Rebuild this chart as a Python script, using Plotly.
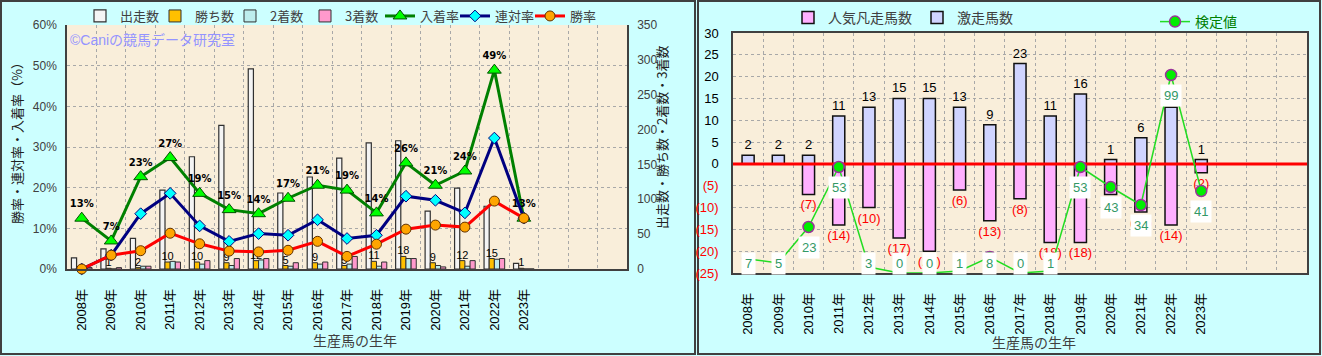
import plotly.graph_objects as go

# ---------------- data ----------------
years = ["2008年", "2009年", "2010年", "2011年", "2012年", "2013年", "2014年", "2015年",
         "2016年", "2017年", "2018年", "2019年", "2020年", "2021年", "2022年", "2023年"]

starts = [16, 29, 44, 113, 161, 206, 287, 109, 132, 159, 181, 184, 83, 116, 90, 8]
wins = [0, 1, 2, 10, 10, 9, 12, 5, 9, 5, 11, 18, 9, 12, 15, 1]
seconds = [0, 0, 4, 11, 7, 5, 13, 4, 7, 7, 4, 15, 5, 4, 14, 0]
thirds = [2, 2, 4, 10, 12, 15, 15, 9, 10, 18, 10, 15, 3, 12, 15, 0]

win_rate = [0.0, 3.4, 4.5, 8.8, 6.2, 4.4, 4.2, 4.6, 6.8, 3.1, 6.1, 9.8, 10.8, 10.3, 16.7, 12.5]
rentai_rate = [0.0, 3.4, 13.6, 18.6, 10.6, 6.8, 8.7, 8.3, 12.1, 7.5, 8.3, 17.9, 16.9, 13.8, 32.2, 12.5]
place_rate = [12.5, 6.9, 22.7, 27.4, 18.6, 14.6, 13.6, 17.4, 20.6, 19.4, 13.8, 26.1, 20.6, 24.1, 48.9, 12.5]

fail_counts = [0, 0, 7, 14, 10, 17, 20, 6, 13, 8, 18, 18, 7, 11, 14, 2]      # 人気凡走馬数
upset_counts = [2, 2, 2, 11, 13, 15, 15, 13, 9, 23, 11, 16, 1, 6, 13, 1]     # 激走馬数
test_values = [7, 5, 23, 53, 3, 0, 0, 1, 8, 0, 1, 53, 43, 34, 99, 41]        # 検定値

right_ticks = [-25, -20, -15, -10, -5, 0, 5, 10, 15, 20, 25, 30]

# ---------------- layout helpers ----------------
W, H = 1322, 356
N_SLOTS = 19
XR = [-0.5, N_SLOTS - 0.5]
FONT = "Liberation Sans, Noto Sans CJK JP, sans-serif"
CJK = "Noto Sans CJK JP, sans-serif"


def px(x):
    return x / W


def py(y):
    return 1 - y / H


idx = list(range(len(years)))

fig = go.Figure()

# ---------------- left chart: bars (base axis y = counts) ----------------
bar_common = dict(xaxis="x", yaxis="y", legend="legend", constraintext="none",
                  textangle=0, cliponaxis=False, hoverinfo="skip")
fig.add_trace(go.Bar(name="出走数", x=idx, y=starts,
                     marker=dict(color="#F4F4F4", line=dict(color="#303030", width=1.2)),
                     **bar_common))
fig.add_trace(go.Bar(name="勝ち数", x=idx, y=wins,
                     text=[str(v) if v else "" for v in wins], textposition="outside",
                     textfont=dict(size=11, color="#000000", family=FONT),
                     marker=dict(color="#FFC000", line=dict(color="#303030", width=1.0)),
                     **bar_common))
fig.add_trace(go.Bar(name="2着数", x=idx, y=seconds,
                     marker=dict(color="#BDEDED", line=dict(color="#303030", width=1.0)),
                     **bar_common))
fig.add_trace(go.Bar(name="3着数", x=idx, y=thirds,
                     marker=dict(color="#FF99CC", line=dict(color="#303030", width=1.0)),
                     **bar_common))

# ---------------- left chart: rate lines (overlay axis y2 = %) ----------------
fig.add_trace(go.Scatter(name="入着率", x=idx, y=place_rate, xaxis="x", yaxis="y2",
                         legend="legend", mode="lines+markers+text",
                         text=[f"{int(v + 0.5)}%" for v in place_rate],
                         textposition="top center",
                         textfont=dict(size=10, color="#000000", family="DejaVu Sans, " + CJK,
                                       weight="bold"),
                         line=dict(color="#008000", width=3),
                         marker=dict(symbol="triangle-up", size=12, color="#00FF00",
                                     line=dict(color="#005000", width=1)),
                         cliponaxis=False, hoverinfo="skip"))
fig.add_trace(go.Scatter(name="連対率", x=idx, y=rentai_rate, xaxis="x", yaxis="y2",
                         legend="legend", mode="lines+markers",
                         line=dict(color="#000080", width=3),
                         marker=dict(symbol="diamond", size=9, color="#00FFFF",
                                     line=dict(color="#000080", width=1)),
                         cliponaxis=False, hoverinfo="skip"))
fig.add_trace(go.Scatter(name="勝率", x=idx, y=win_rate, xaxis="x", yaxis="y2",
                         legend="legend", mode="lines+markers",
                         line=dict(color="#FF0000", width=3),
                         marker=dict(symbol="circle", size=10, color="#FFA500",
                                     line=dict(color="#603000", width=1)),
                         cliponaxis=False, hoverinfo="skip"))

# ---------------- right chart ----------------
rbar_common = dict(xaxis="x2", yaxis="y3", legend="legend2", offsetgroup="r", width=0.4,
                   constraintext="none", textangle=0, cliponaxis=False,
                   textposition="outside", hoverinfo="skip")
fig.add_trace(go.Bar(name="人気凡走馬数", x=idx, y=[-v for v in fail_counts],
                     text=[f"({v})" if v else "" for v in fail_counts],
                     textfont=dict(size=13, color="#FF0000", family=FONT),
                     marker=dict(color="#FFB0FF", line=dict(color="#101010", width=1.5)),
                     **rbar_common))
fig.add_trace(go.Bar(name="激走馬数", x=idx, y=upset_counts,
                     text=[str(v) for v in upset_counts],
                     textfont=dict(size=13, color="#000000", family=FONT),
                     marker=dict(color="#D0D4FF", line=dict(color="#101010", width=1.5)),
                     **rbar_common))
# zero reference line
fig.add_trace(go.Scatter(x=XR, y=[0, 0], xaxis="x2", yaxis="y3", mode="lines",
                         line=dict(color="#FF0000", width=3), showlegend=False,
                         hoverinfo="skip"))
fig.add_trace(go.Scatter(name="検定値", x=idx, y=test_values, xaxis="x2", yaxis="y4",
                         legend="legend3", mode="lines+markers",
                         line=dict(color="#22DD22", width=1.5),
                         marker=dict(symbol="circle", size=11, color="#00EE00",
                                     line=dict(color="#993399", width=1.5)),
                         cliponaxis=True, hoverinfo="skip"))

annotations = []
for i, v in enumerate(test_values):
    annotations.append(dict(x=i, y=max(v - 10, 5), xref="x2", yref="y4", text=str(v),
                            showarrow=False, bgcolor="#FFFFFF", borderpad=3,
                            font=dict(size=13, color="#339966", family=FONT)))

# titles / watermark
annotations += [
    dict(x=px(68), y=py(40), xref="paper", yref="paper", xanchor="left", yanchor="middle",
         text="©Caniの競馬データ研究室", showarrow=False,
         font=dict(size=14, color="#9494FF", family=FONT)),
    dict(x=px(16), y=py(140), xref="paper", yref="paper", textangle=-90,
         xanchor="center", yanchor="middle",
         text="勝率・連対率・入着率（%）", showarrow=False,
         font=dict(size=13, color="#202020", family=CJK)),
    dict(x=px(662), y=py(138), xref="paper", yref="paper", textangle=-90,
         xanchor="center", yanchor="middle",
         text="出走数・勝ち数・2着数・3着数", showarrow=False,
         font=dict(size=13, color="#202020", family=CJK)),
    dict(x=px(355), y=py(340), xref="paper", yref="paper", xanchor="center",
         yanchor="middle", text="生産馬の生年", showarrow=False,
         font=dict(size=14, color="#404040", family=CJK)),
    dict(x=px(1034), y=py(342), xref="paper", yref="paper", xanchor="center",
         yanchor="middle", text="生産馬の生年", showarrow=False,
         font=dict(size=14, color="#404040", family=CJK)),
]

red = "#FF0000"
right_ticktext = [f"<span style='color:{red}'>({-t})</span>" if t < 0 else str(t)
                  for t in right_ticks]

grid = dict(showgrid=True, gridcolor="#A8A8A8", griddash="dot", gridwidth=1)
xcommon = dict(range=XR, tickmode="array", tickvals=idx, ticktext=years, tickangle=-90,
               showgrid=False, showline=True, linecolor="#404040", linewidth=1.5,
               ticks="outside", ticklen=10, tickcolor="rgba(0,0,0,0)", ticklabelstandoff=3,
               tickfont=dict(size=13, color="#000000", family=FONT),
               minor=dict(tickmode="linear", tick0=0.5, dtick=1, showgrid=True,
                          gridcolor="#A8A8A8", griddash="dot", ticks=""),
               zeroline=False, fixedrange=True)

fig.update_layout(
    width=W, height=H,
    margin=dict(l=0, r=0, t=0, b=0, autoexpand=False),
    paper_bgcolor="#CCFFFF",
    plot_bgcolor="#F9EEDA",
    barmode="group", bargap=0.3, bargroupgap=0.0,
    font=dict(family=FONT, size=12, color="#404040"),
    xaxis=dict(domain=[px(67), px(627)], anchor="y", **xcommon),
    yaxis=dict(domain=[py(269), py(25)], anchor="x", side="right", range=[0, 350],
               dtick=50, showgrid=False, showline=True, linecolor="#404040", linewidth=1.5,
               zeroline=False, ticks="", ticklabelstandoff=6,
               tickfont=dict(size=12, color="#404040", family=FONT), fixedrange=True),
    yaxis2=dict(overlaying="y", anchor="x", side="left", range=[0, 60], dtick=10,
                ticksuffix="%", showline=True, linecolor="#404040", linewidth=1.5,
                zeroline=False, ticks="", ticklabelstandoff=6,
                tickfont=dict(size=12, color="#404040", family=FONT), fixedrange=True,
                **grid),
    xaxis2=dict(domain=[px(733), px(1307)], anchor="y3", mirror=True, **xcommon),
    yaxis3=dict(domain=[py(273), py(33)], anchor="x2", range=[-25, 30],
                tickmode="array", tickvals=right_ticks, ticktext=right_ticktext,
                showline=True, linecolor="#404040", linewidth=1.5, mirror=True,
                zeroline=False, ticks="", ticklabelstandoff=10,
                tickfont=dict(size=13, color="#000000", family=FONT), fixedrange=True,
                **grid),
    yaxis4=dict(overlaying="y3", anchor="x2", range=[0, 120], visible=False,
                fixedrange=True),
    legend=dict(orientation="h", x=px(80), y=py(16), xanchor="left", yanchor="middle",
                bgcolor="rgba(0,0,0,0)", itemwidth=30, traceorder="normal",
                entrywidth=30, entrywidthmode="pixels",
                font=dict(size=13, color="#404040", family=CJK)),
    legend2=dict(orientation="h", x=px(788), y=py(18), xanchor="left", yanchor="middle",
                 bgcolor="rgba(0,0,0,0)", itemwidth=30, traceorder="normal",
                 font=dict(size=14, color="#404040", family=CJK)),
    legend3=dict(orientation="h", x=px(1155), y=py(22), xanchor="left", yanchor="middle",
                 bgcolor="rgba(0,0,0,0)", itemwidth=30,
                 font=dict(size=14, color="#008000", family=CJK)),
    annotations=annotations,
    shapes=[
        dict(type="rect", xref="paper", yref="paper", x0=px(1), x1=px(695), y0=py(354),
             y1=py(1), line=dict(color="#404040", width=2), layer="below"),
        dict(type="rect", xref="paper", yref="paper", x0=px(698), x1=px(1320), y0=py(354),
             y1=py(1), line=dict(color="#404040", width=2), layer="below"),
    ],
)

fig.write_html("out.html", config={"displayModeBar": False},
               post_script="document.body.style.margin='0';document.body.style.overflow='hidden';")
